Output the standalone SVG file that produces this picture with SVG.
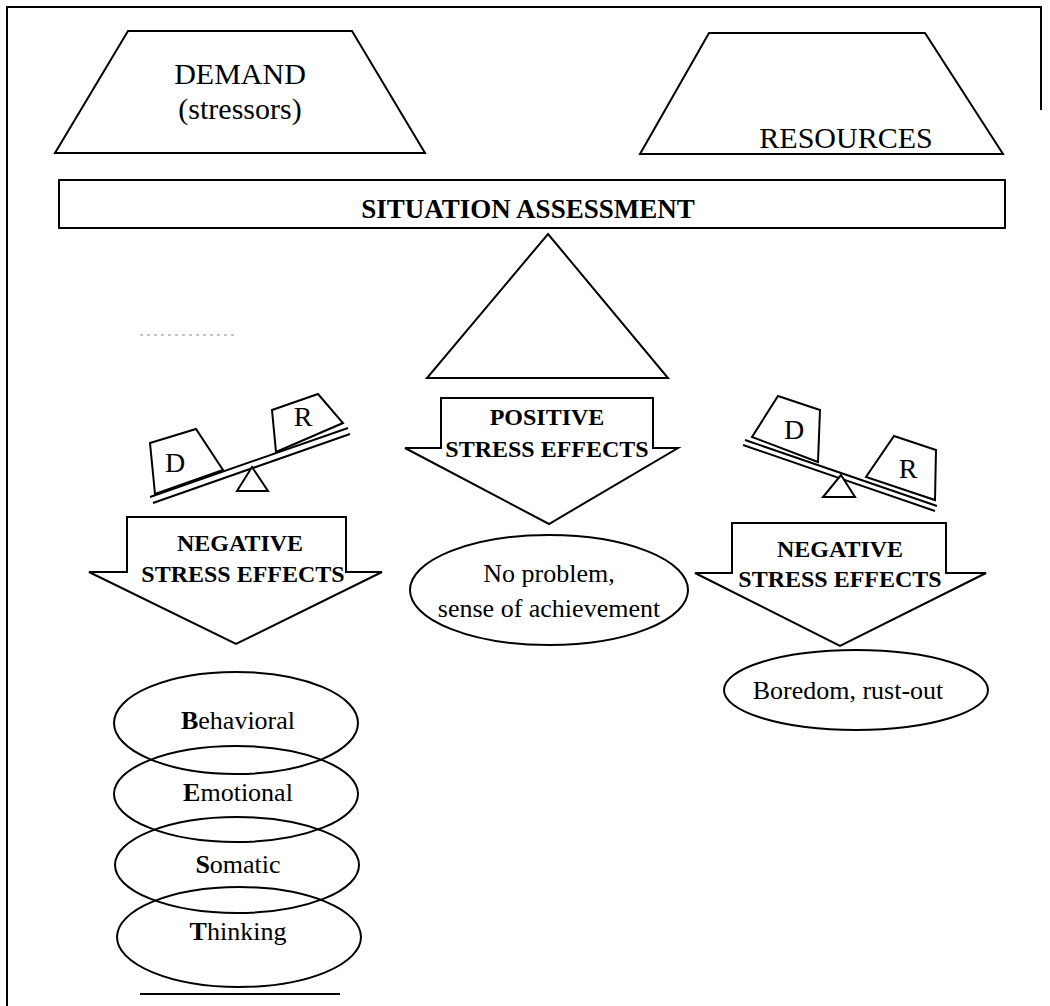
<svg xmlns="http://www.w3.org/2000/svg" width="1050" height="1006" viewBox="0 0 1050 1006">
<style>
.s{fill:#fff;stroke:#000;stroke-width:2;stroke-linejoin:miter}
.l{fill:none;stroke:#000;stroke-width:2}
.t{font-family:"Liberation Serif","Times New Roman",serif;fill:#000;text-anchor:middle}
.big{font-size:30px}
.b{font-weight:bold}
.lab{font-size:24px;font-weight:bold}
.e{font-size:26px}
</style>
<rect width="1050" height="1006" fill="#fff"/>
<g id="frame">
<path class="l" d="M7,1006 L7,7 L1041,7 L1041,110"/>
<path class="l" d="M140,994 H340" stroke-width="1.5"/>
<path d="M140,335 H235" stroke="#888" stroke-width="1" stroke-dasharray="3,4" fill="none"/>
</g>
<g id="demand">
<path class="s" d="M128,31 H352 L425,153 H55 Z"/>
<text class="t big" x="240" y="84">DEMAND</text>
<text class="t big" x="240" y="119">(stressors)</text>
</g>
<g id="resources">
<path class="s" d="M709,33 H925 L1003,154 H640 Z"/>
<text class="t big" x="846" y="148">RESOURCES</text>
</g>
<g id="situation">
<rect class="s" x="59" y="180" width="946" height="48"/>
<text class="t b" font-size="27" x="528" y="218">SITUATION ASSESSMENT</text>
</g>
<g id="balance-triangle">
<path class="s" d="M548,234 L668,378 H427 Z"/>
</g>
<g id="positive">
<path class="s" d="M441,398 H653 V448 H678 L549,524 L405,448 H441 Z"/>
<text class="t lab" x="547" y="425">POSITIVE</text>
<text class="t lab" x="547" y="457">STRESS EFFECTS</text>
</g>
<g id="no-problem">
<ellipse class="s" cx="549" cy="590" rx="139" ry="55"/>
<text class="t e" x="549" y="582">No problem,</text>
<text class="t e" x="549" y="617">sense of achievement</text>
</g>
<g id="left-balance">
<path class="l" d="M150,497 L348,428 M153,503 L350,434"/>
<path class="s" d="M150,443 L196,429 L223,470 L155,494 Z"/>
<path class="s" d="M272,410 L318,394 L343,423 L276,452 Z"/>
<path class="s" d="M252,467 L268,491 H237 Z"/>
<text class="t" font-size="28" x="175" y="472">D</text>
<text class="t" font-size="28" x="303" y="426">R</text>
</g>
<g id="left-negative">
<path class="s" d="M127,517 H346 V572 H382 L236,644 L89,572 H127 Z"/>
<text class="t lab" x="240" y="551">NEGATIVE</text>
<text class="t lab" x="243" y="582">STRESS EFFECTS</text>
</g>
<g id="right-balance">
<path class="l" d="M745,440 L937,506 M743,445 L935,511"/>
<path class="s" d="M778,396 L820,410 L818,462 L752,437 Z"/>
<path class="s" d="M894,436 L936,450 L935,500 L866,477 Z"/>
<path class="s" d="M841,475 L855,497 H823 Z"/>
<text class="t" font-size="28" x="794" y="439">D</text>
<text class="t" font-size="28" x="908" y="478">R</text>
</g>
<g id="right-negative">
<path class="s" d="M732,523 H946 V573 H986 L840,646 L695,573 H732 Z"/>
<text class="t lab" x="840" y="557">NEGATIVE</text>
<text class="t lab" x="840" y="587">STRESS EFFECTS</text>
</g>
<g id="boredom">
<ellipse class="s" cx="856" cy="690" rx="132" ry="40"/>
<text class="t e" x="848" y="699">Boredom, rust-out</text>
</g>
<g id="effects">
<ellipse class="l" cx="236" cy="723" rx="122" ry="51"/>
<ellipse class="l" cx="236" cy="794" rx="122" ry="48"/>
<ellipse class="l" cx="237" cy="865" rx="122" ry="48"/>
<ellipse class="l" cx="239" cy="937" rx="122" ry="50"/>
<text class="t e" x="238" y="729"><tspan font-weight="bold">B</tspan>ehavioral</text>
<text class="t e" x="238" y="801"><tspan font-weight="bold">E</tspan>motional</text>
<text class="t e" x="238" y="873"><tspan font-weight="bold">S</tspan>omatic</text>
<text class="t e" x="238" y="940"><tspan font-weight="bold">T</tspan>hinking</text>
</g>
</svg>
